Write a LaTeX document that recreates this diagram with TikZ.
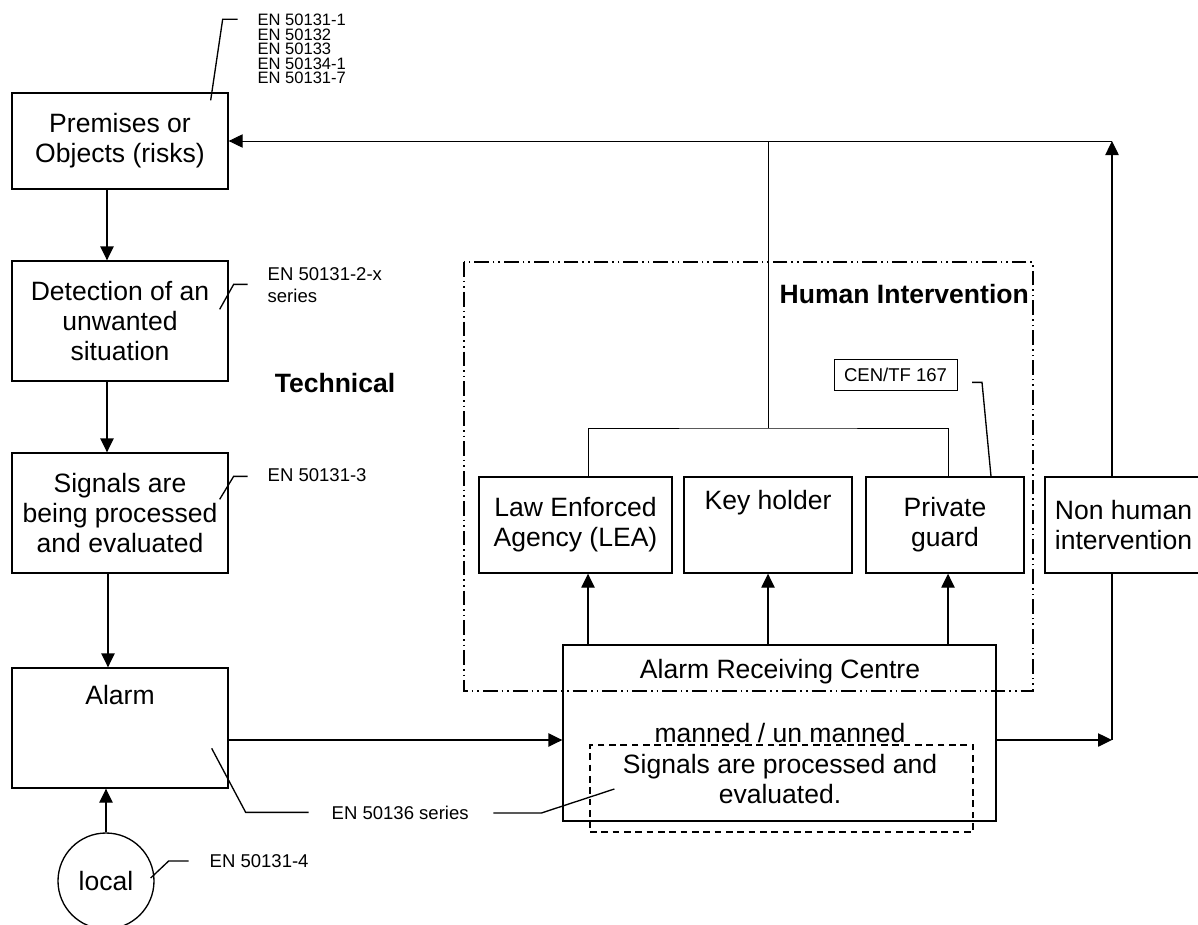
\documentclass[tikz,border=0pt]{standalone}
\usepackage{fontspec}
\setmainfont{Liberation Sans}
\usetikzlibrary{arrows.meta}

\begin{document}
\begin{tikzpicture}[x=0.75pt,y=-0.75pt,line width=1pt,
	box/.style={draw,rectangle,align=center,inner sep=0pt,font=\fontsize{19.9}{22.5}\selectfont},
	txt/.style={inner sep=0pt,align=center,font=\fontsize{19.9}{22.5}\selectfont},
	note/.style={inner sep=0pt,anchor=west,align=left,font=\fontsize{13.9}{16.5}\selectfont},
	head/.style={inner sep=0pt,font=\bfseries\fontsize{19.9}{22.5}\selectfont},
	arr/.style={-{Triangle[length=10.5pt,width=10pt]}},
	thin/.style={line width=0.75pt},
	hum/.style={dash pattern=on 11pt off 3pt on 1.2pt off 3pt on 1.2pt off 3pt}]
	\useasboundingbox (0,0) rectangle (1198,924);

	% left column
	\node (prem) [box,minimum width=162pt,minimum height=72pt] at (120,141) {Premises or\\Objects (risks)};
	\node (det) [box,minimum width=162pt,minimum height=90pt] at (120,321) {Detection of an\\unwanted\\situation};
	\node (sig) [box,minimum width=162pt,minimum height=90pt] at (120,513) {Signals are\\being processed\\and evaluated};
	\node (alarm) [box,minimum width=162pt,minimum height=90pt] at (120,728) {};
	\node (alarmtxt) [txt] at (120,695) {Alarm};
	\node (loc) [box,circle,minimum size=72pt] at (106,881) {local};

	% human intervention
	\draw[hum] (464,262) rectangle (1033,691);
	\node (humint) [head,anchor=west] at (779,294) {Human Intervention};
	\node (tech) [head] at (335,383) {Technical};
	\node (lea) [box,minimum width=144.75pt,minimum height=72pt] at (575.5,525) {Law Enforced\\Agency (LEA)};
	\node (kh) [box,minimum width=126pt,minimum height=72pt] at (768,525) {};
	\node (khtxt) [txt] at (768,503) {Key holder};
	\node (pg) [box,minimum width=118.5pt,minimum height=72pt] at (945,525) {Private\\guard};
	\node (nh) [box,minimum width=117.75pt,minimum height=72pt] at (1123.5,525) {Non human\\intervention};
	\node (cen) [draw,thin,inner sep=0pt,minimum width=92.25pt,minimum height=23.25pt,font=\fontsize{13.9}{16.5}\selectfont] at (895.5,374.5) {CEN/TF 167};

	% alarm receiving centre
	\node (arc) [box,minimum width=324.75pt,minimum height=132pt] at (779.5,733) {};
	\node (arctitle) [txt] at (780,672) {Alarm Receiving Centre};
	\node (manned) [txt] at (780,733) {manned / un manned};
	\node (proc) [draw,dash pattern=on 5pt off 3.5pt,minimum width=287.25pt,minimum height=65.25pt] at (781.5,788.5) {};
	\node (proctxt) [txt] at (780,779) {Signals are processed and\\evaluated.};

	% standards
	\node (std1) [note,font=\fontsize{12.4}{10.8}\selectfont] at (257,49) {EN 50131-1\\EN 50132\\EN 50133\\EN 50134-1\\EN 50131-7};
	\node (std2) [note] at (267,285) {EN 50131-2-x\\series};
	\node (std3) [note] at (267,475) {EN 50131-3};
	\node (std4) [note] at (209,861) {EN 50131-4};
	\node (std5) [note] at (331,813) {EN 50136 series};

	\coordinate (lvl) at (0,740);
	\coordinate (rt) at (1112,141);
	\coordinate (rb) at (1112,740);
	\coordinate (bar) at (768,428);
	\coordinate (u1) at (588,0);
	\coordinate (u3) at (948,0);

	\draw[arr] ([xshift=-9.75pt]prem.south) -- ([xshift=-9.75pt]det.north);
	\draw[arr] ([xshift=-9.75pt]det.south) -- ([xshift=-9.75pt]sig.north);
	\draw[arr] ([xshift=-9pt]sig.south) -- ([xshift=-9pt]alarm.north);
	\draw[arr] (loc.north) -- (loc.north |- alarm.south);
	\draw[arr] (alarm.east |- lvl) -- (arc.west |- lvl);
	\draw[arr] (arc.east |- lvl) -- (rb);
	\draw (rb) -- (nh.south -| rb);
	\draw[arr] (nh.north -| rb) -- (rt);
	\draw[arr,thin] (rt) -- (prem.east);
	\draw[thin] (bar) -- (bar |- rt);
	\draw[thin] (u1 |- lea.north) |- (bar) -| (u3 |- pg.north);
	\draw[arr] (u1 |- arc.north) -- (u1 |- lea.south);
	\draw[arr] (kh.south |- arc.north) -- (kh.south);
	\draw[arr] (u3 |- arc.north) -- (u3 |- pg.south);

	% leaders
	\draw (prem.north east) ++(-18,8) -- ++(12,-81) -- ++(15,0);
	\draw (det.north east) ++(-9,49) -- ++(14,-25) -- ++(14,0);
	\draw (sig.north east) ++(-9,47) -- ++(14,-23) -- ++(14,0);
	\draw (alarm.north east) ++(-17,81) -- ++(34,64) -- ++(63,0);
	\draw (std5.east) ++(24,0) -- ++(48,0) -- ++(73,-24);
	\draw (loc.east) ++(-4,-3) -- ++(18,-17) -- ++(20,0);
	\draw (pg.north) ++(46,0) -- ++(-9,-94) -- ++(-10,0);
\end{tikzpicture}
\end{document}
